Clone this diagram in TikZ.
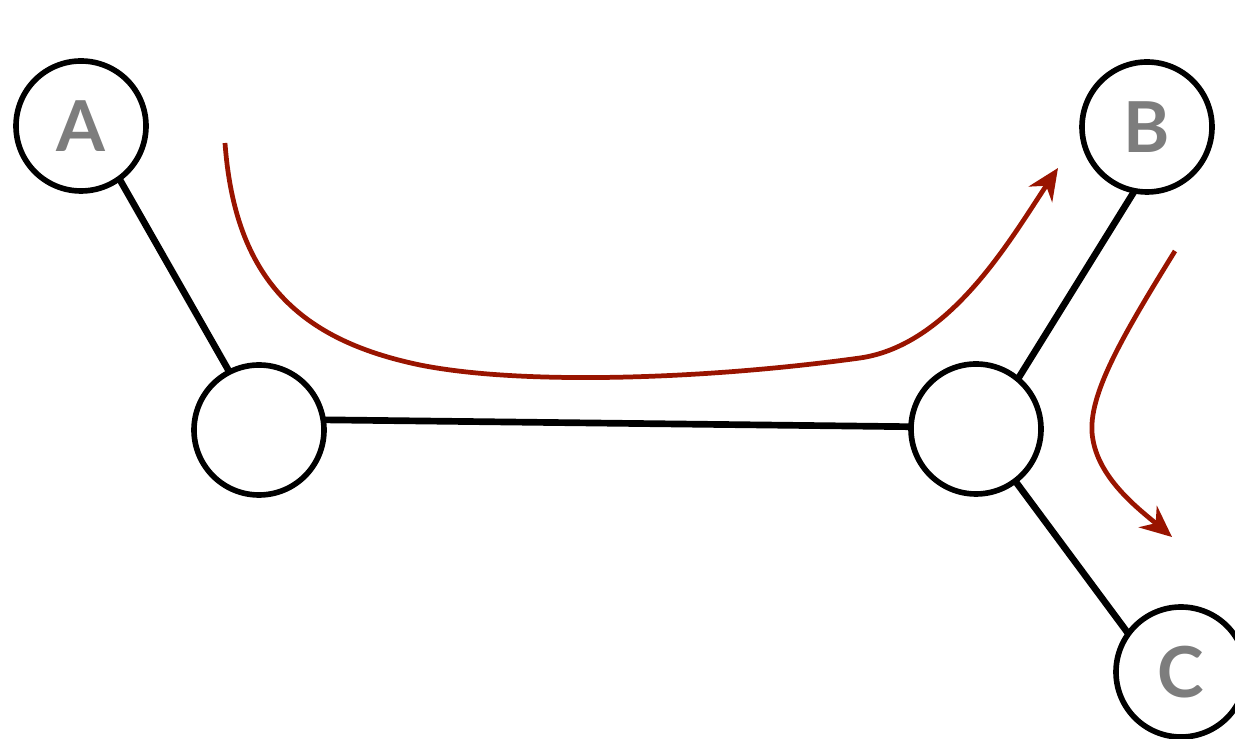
\documentclass[tikz,border=0pt]{standalone}
\usepackage{fontspec}
\setsansfont{Lato}
\usepackage{tikz}
\usetikzlibrary{arrows.meta}
\definecolor{flowred}{RGB}{153, 20, 0}
\definecolor{lettergray}{RGB}{125, 125, 125}

\begin{document}
\begin{tikzpicture}[
    vertex/.style={circle, draw, line width=1.6pt, minimum size=1.3cm, inner sep=0pt, outer sep=0pt,
                   font=\sffamily\bfseries\fontsize{20}{21}\selectfont, text=lettergray},
    link/.style={line width=1.9pt},
    flow/.style={-{Stealth[length=9pt, width=8pt]}, flowred, line width=1.35pt}
]
\useasboundingbox (0,0) rectangle (12.35,7.39);

% Nodes
\node[vertex] (a) at (0.81,6.13) {A};
\node[vertex] (b) at (11.47,6.12) {B};
\node[vertex] (c) at (11.81,0.67) {C};
\node[vertex] (left) at (2.59,3.09) {};
\node[vertex] (right) at (9.76,3.10) {};

% Links
\draw[link] (a.-54) -- (left.117);
\draw[link] (left.9) -- (right.178);
\draw[link] (right.50) -- (b.259);
\draw[link] (right.-53) -- (c.144);

% Flows
\coordinate (s1) at (2.25,5.96);
\coordinate (t1) at (10.58,5.71);
\coordinate (s2) at (11.75,4.88);
\coordinate (t2) at (11.72,2.02);
\draw[flow] (s1) .. controls (2.35,4.59) and (3.00,3.99) .. (4.20,3.74)
    .. controls (5.20,3.54) and (7.00,3.59) .. (8.60,3.81)
    .. controls (9.50,3.94) and (10.10,4.99) .. (t1);
\draw[flow] (s2) .. controls (11.20,3.99) and (10.85,3.39) .. (10.93,2.99)
    .. controls (11.00,2.59) and (11.40,2.29) .. (t2);
\end{tikzpicture}
\end{document}
